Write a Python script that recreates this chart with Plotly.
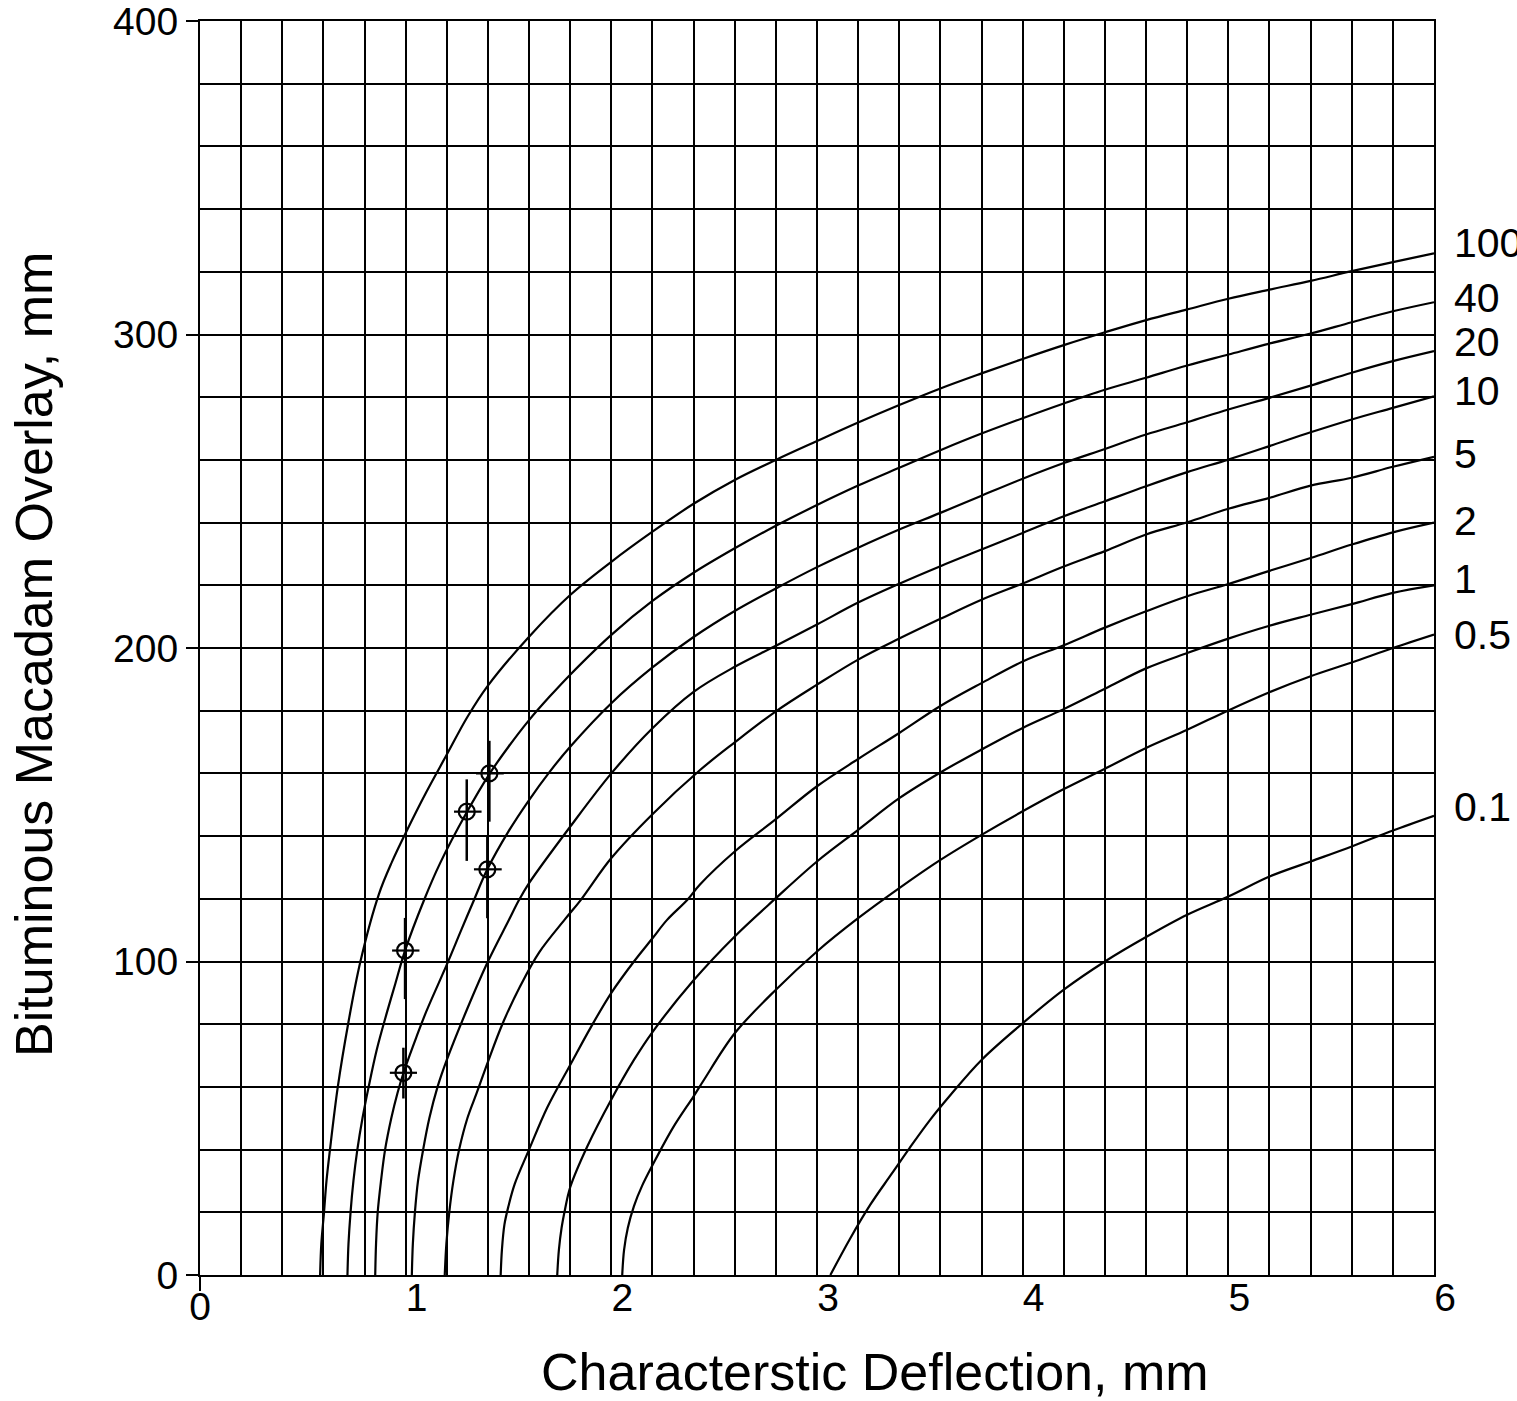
import plotly.graph_objects as go

# ---------------- data ----------------
x_tick_vals = [1, 2, 3, 4, 5, 6]
y_tick_vals = [0, 100, 200, 300, 400]
curve_labels = ["100", "40", "20", "10", "5", "2", "1", "0.5", "0.1"]

c100_x = [0.584, 0.590, 0.603, 0.615, 0.632, 0.67, 0.72, 0.78, 0.87, 0.935, 1.0, 1.1, 1.2, 1.3, 1.4, 1.6, 1.8,
          2.0, 2.2, 2.4, 2.6, 2.8, 3.0, 3.2, 3.4, 3.6, 3.8, 4.0, 4.2, 4.4, 4.6, 4.8, 5.0, 5.2, 5.4, 5.6, 5.8, 6.0]
c100_y = [0, 10, 20, 30, 40, 60, 80, 100, 121.5, 132, 141, 154, 166, 178, 188, 203.6, 216.9,
          227.5, 237.1, 246, 253.6, 260, 266, 271.9, 277.5, 282.8, 287.6, 292.2, 296.6, 300.7, 304.6, 308,
          311.4, 314.3, 317.1, 320.2, 323.1, 325.9]

c40_x = [0.717, 0.722, 0.732, 0.746, 0.765, 0.79, 0.82, 0.86, 0.91, 0.95, 0.997, 1.09, 1.167, 1.297, 1.407,
         1.5, 1.6, 1.7, 1.8, 2.0, 2.2, 2.4, 2.6, 2.8, 3.0, 3.2, 3.4, 3.6, 3.8, 4.0, 4.2, 4.4, 4.6, 4.8, 5.0,
         5.2, 5.4, 5.6, 5.8, 6.0]
c40_y = [0, 10, 20, 30, 40, 50, 60, 72, 84, 93, 103.5, 119.7, 131.3, 147.6, 159.8,
         168.5, 177, 184.5, 191.5, 204.2, 215, 224, 231.8, 239, 245.6, 251.8, 257.5, 263.1, 268.4, 273.3,
         278, 282.4, 286.2, 290.1, 293.6, 297.1, 300.3, 303.9, 307.4, 310.3]

c20_x = [0.852, 0.856, 0.864, 0.88, 0.9, 0.93, 0.96, 0.99, 1.05, 1.1, 1.2, 1.27, 1.325, 1.397, 1.5, 1.6,
         1.7, 1.8, 2.0, 2.2, 2.4, 2.6, 2.8, 3.0, 3.2, 3.4, 3.6, 3.8, 4.0, 4.2, 4.4, 4.6, 4.8, 5.0, 5.2, 5.4,
         5.6, 5.8, 6.0]
c20_y = [0, 10, 20, 30, 40, 50, 58, 64.6, 75.5, 84, 99, 110, 118.5, 129.4, 141.5, 151.5,
         160.5, 168.5, 182.4, 193.8, 203.5, 211.8, 219, 225.8, 232, 237.8, 243.1, 248.6, 254, 259, 263.5,
         268.1, 272, 276.1, 279.8, 283.7, 287.8, 291.5, 294.7]

c10_x = [1.03, 1.035, 1.045, 1.06, 1.085, 1.115, 1.155, 1.2, 1.3, 1.4, 1.5, 1.551, 1.6, 1.8, 2.0, 2.2,
         2.4, 2.6, 2.8, 3.0, 3.2, 3.4, 3.6, 3.8, 4.0, 4.2, 4.4, 4.6, 4.8, 5.0, 5.2, 5.4, 5.6, 5.8, 6.0]
c10_y = [0, 10, 20, 30, 40, 50, 60, 68.6, 85, 100, 113, 119.6, 125, 143, 160, 174.4,
         186, 194, 200.7, 207.5, 214.5, 220.5, 226.1, 231.4, 236.7, 242, 246.8, 251.6, 256.1, 260.1, 264.4,
         268.8, 272.9, 276.6, 280.3]

c5_x = [1.19, 1.198, 1.212, 1.232, 1.26, 1.3, 1.345, 1.4, 1.47, 1.556, 1.65, 1.775, 1.851, 2.0, 2.2, 2.43,
        2.6, 2.8, 3.0, 3.2, 3.4, 3.6, 3.8, 4.0, 4.2, 4.4, 4.6, 4.8, 5.0, 5.2, 5.4, 5.6, 5.8, 6.0]
c5_y = [0, 10, 20, 30, 40, 50, 58, 68, 80, 92, 103, 113.5, 119.6, 133, 147, 161,
        169.9, 179.8, 188.3, 196.3, 203, 209.3, 215.4, 220.6, 226, 230.9, 236.2, 240.1, 244.4, 247.9, 251.8,
        254.3, 257.8, 261]

c2_x = [1.462, 1.468, 1.48, 1.5, 1.53, 1.6, 1.689, 1.8, 1.9, 2.0, 2.11, 2.2, 2.27, 2.37, 2.43, 2.6, 2.8,
        3.0, 3.2, 3.4, 3.6, 3.8, 4.0, 4.2, 4.4, 4.6, 4.8, 5.0, 5.2, 5.4, 5.6, 5.8, 6.0]
c2_y = [0, 8, 16, 22, 29, 40, 53.5, 67, 79, 90, 100, 107.4, 113.2, 119.7, 124.5, 135.1, 145.4,
        155.9, 164.6, 172.9, 181.5, 188.8, 195.7, 200.9, 206.5, 211.7, 216.5, 220.4, 224.6, 228.7, 233,
        236.9, 240]

c1_x = [1.737, 1.745, 1.758, 1.775, 1.8, 1.883, 2.0, 2.11, 2.2, 2.4, 2.6, 2.8, 3.0, 3.2, 3.4, 3.6, 3.8,
        4.0, 4.2, 4.4, 4.6, 4.8, 5.0, 5.2, 5.4, 5.6, 5.8, 6.0]
c1_y = [0, 8, 15, 21, 28, 41, 56, 68.6, 77.5, 94, 108, 120.2, 131.9, 142, 152.1, 160.3, 167.6,
        174.5, 180.5, 187, 193.5, 198.4, 203, 207.1, 210.6, 214, 217.6, 220]

c05_x = [2.053, 2.062, 2.08, 2.11, 2.15, 2.2, 2.3, 2.4, 2.45, 2.6, 2.8, 3.0, 3.2, 3.4, 3.6, 3.8, 4.0,
         4.2, 4.4, 4.6, 4.8, 5.0, 5.2, 5.4, 5.6, 5.8, 6.0]
c05_y = [0, 8, 15, 22, 28.5, 35, 47, 57, 62.2, 77.1, 91, 103.2, 113.8, 123.4, 132.4, 140.4, 147.9,
         155, 161.5, 168.1, 173.9, 180.1, 185.9, 191, 195.4, 200, 204.3]

c01_x = [3.065, 3.16, 3.26, 3.36, 3.45, 3.55, 3.65, 3.8, 4.0, 4.2, 4.4, 4.6, 4.8, 5.0, 5.2, 5.4, 5.6,
         5.8, 6.0]
c01_y = [0, 11.5, 22.5, 32, 40.5, 49.5, 57.5, 68.6, 80.3, 91, 100, 107.8, 114.9, 120.7, 127.1, 131.9,
         136.7, 141.8, 146.5]

# measured points with error bars
pts_x = [0.997, 0.989, 1.297, 1.397, 1.407]
pts_y = [103.5, 64.5, 147.8, 129.4, 160.0]
pts_err_up = [10.4, 8.0, 10.3, 10.4, 10.4]
pts_err_down = [15.5, 8.2, 15.7, 15.6, 15.4]
pts_errx_right = [0.07, 0.066, 0.072, 0.07, 0.07]
pts_errx_left = [0.063, 0.066, 0.062, 0.065, 0.065]

curves_x = [c100_x, c40_x, c20_x, c10_x, c5_x, c2_x, c1_x, c05_x, c01_x]
curves_y = [c100_y, c40_y, c20_y, c10_y, c5_y, c2_y, c1_y, c05_y, c01_y]

# ---------------- figure ----------------
FONT = "Liberation Sans, Arial, sans-serif"
fig = go.Figure()

for cx, cy, name in zip(curves_x, curves_y, curve_labels):
    fig.add_trace(go.Scatter(
        x=cx, y=cy, mode="lines", name=name,
        line=dict(color="black", width=2.2, shape="spline", smoothing=1.0),
        showlegend=False, hoverinfo="skip"))

fig.add_trace(go.Scatter(
    x=pts_x, y=pts_y, mode="markers", xaxis="x2",
    marker=dict(symbol="circle-open", size=16, color="black", line=dict(width=2.2, color="black")),
    error_y=dict(type="data", symmetric=False, array=pts_err_up, arrayminus=pts_err_down,
                 thickness=2.5, width=0, color="black"),
    error_x=dict(type="data", symmetric=False, array=pts_errx_right, arrayminus=pts_errx_left,
                 thickness=2.2, width=0, color="black"),
    showlegend=False, hoverinfo="skip"))

label_yshift = [10, 4, 9, 5, 3, 2, 6, 0, 9]
for cy, lab, ys in zip(curves_y, curve_labels, label_yshift):
    fig.add_annotation(x=6, y=cy[-1], xref="x", yref="y", text=lab, showarrow=False,
                       xanchor="left", yanchor="middle", xshift=18, yshift=ys,
                       font=dict(family=FONT, size=41, color="black"))

fig.add_annotation(x=0.547, y=-0.077, xref="paper", yref="paper",
                   text="Characterstic Deflection, mm", showarrow=False,
                   xanchor="center", yanchor="middle",
                   font=dict(family=FONT, size=52, color="black"))
fig.add_annotation(x=-0.134, y=0.495, xref="paper", yref="paper",
                   text="Bituminous Macadam Overlay, mm", showarrow=False, textangle=-90,
                   xanchor="center", yanchor="middle",
                   font=dict(family=FONT, size=52, color="black"))

grid_w = 2
fig.update_layout(
    width=1517, height=1401,
    margin=dict(l=200, r=83, t=21, b=126, pad=0, autoexpand=False),
    paper_bgcolor="white", plot_bgcolor="white",
    font=dict(family=FONT, size=39, color="black"),
    xaxis=dict(range=[0, 6], tickmode="array", tickvals=x_tick_vals, automargin=False,
               ticks="", showgrid=True, gridcolor="black", gridwidth=grid_w,
               minor=dict(tickmode="linear", tick0=0, dtick=0.2, showgrid=True,
                          gridcolor="black", gridwidth=grid_w, ticks=""),
               showline=True, linecolor="black", linewidth=2, mirror=True,
               zeroline=False, tickfont=dict(family=FONT, size=39, color="black"),
               ticklabelshift=11, ticklabelstandoff=-13, ticklabeloverflow="allow"),
    xaxis2=dict(range=[0, 6], overlaying="x", anchor="y", side="bottom", automargin=False,
                tickmode="array", tickvals=[0], ticktext=["0"],
                ticks="outside", ticklen=15, tickwidth=2, tickcolor="black",
                showgrid=False, showline=False, zeroline=False,
                ticklabelstandoff=-18, ticklabeloverflow="allow",
                tickfont=dict(family=FONT, size=39, color="black")),
    yaxis=dict(range=[0, 400], tickmode="array", tickvals=y_tick_vals, automargin=False,
               ticks="outside", ticklen=12, tickwidth=2, tickcolor="black",
               showgrid=True, gridcolor="black", gridwidth=grid_w,
               minor=dict(tickmode="linear", tick0=0, dtick=20, showgrid=True,
                          gridcolor="black", gridwidth=grid_w, ticks=""),
               showline=True, linecolor="black", linewidth=2, mirror=True,
               zeroline=False, ticklabeloverflow="allow",
               tickfont=dict(family=FONT, size=39, color="black")),
)

fig.write_html("out.html", config={"displayModeBar": False},
               post_script="document.body.style.margin='0px';")
